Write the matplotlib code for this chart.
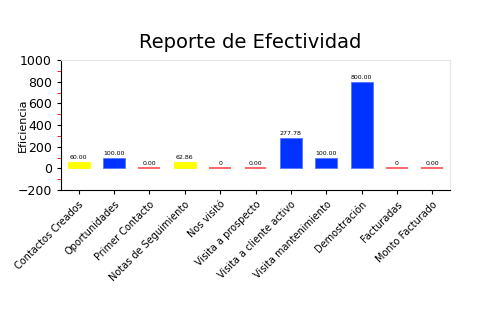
import numpy as np
import matplotlib
matplotlib.use("Agg")
import matplotlib.pyplot as plt
from matplotlib.ticker import MultipleLocator

# data
categorias = ["Contactos Creados", "Oportunidades", "Primer Contacto",
              "Notas de Seguimiento", "Nos visitó", "Visita a prospecto",
              "Visita a cliente activo", "Visita mantenimiento",
              "Demostración", "Facturadas", "Monto Facturado"]
valores = [60.00, 100.00, 0.00, 62.86, 0, 0.00, 277.78, 100.00, 800.00, 0, 0.00]
etiquetas = ["60.00", "100.00", "0.00", "62.86", "0", "0.00",
             "277.78", "100.00", "800.00", "0", "0.00"]


def color_for(v):
    if v <= 0:
        return "#ff6666"
    if v < 100:
        return "#ffff00"
    return "#0033ff"


fig = plt.figure(figsize=(5, 3.3), dpi=100)
ax = fig.add_axes([0.122, 0.424, 0.778, 0.394])

x = np.arange(len(categorias))
for xi, v, lab in zip(x, valores, etiquetas):
    c = color_for(v)
    if v <= 0:
        ax.plot([xi - 0.31, xi + 0.31], [0, 0], color=c, lw=1.4,
                solid_capstyle="butt", zorder=3)
    else:
        ax.bar(xi, v, width=0.62, color=c,
               edgecolor="#5577ff" if c != "#ffff00" else "#ffff00",
               linewidth=0.6, zorder=3)
    ax.text(xi, max(v, 0) + 18, lab, ha="center", va="bottom", fontsize=4.5)

ax.set_xlim(-0.5, len(categorias) - 0.5)
ax.set_ylim(-200, 1000)
ax.yaxis.set_major_locator(MultipleLocator(200))
ax.yaxis.set_minor_locator(MultipleLocator(100))
ax.tick_params(axis="y", which="major", labelsize=9, length=3)
ax.tick_params(axis="y", which="minor", length=3, color="red")
ax.tick_params(axis="x", length=3)
ax.set_xticks(x)
ax.set_xticklabels(categorias, rotation=45, ha="right", rotation_mode="anchor",
                   fontsize=7)

for s in ("top", "right"):
    ax.spines[s].set_color("#e6e6e6")
ax.spines["left"].set_color("black")
ax.spines["bottom"].set_color("black")

ax.set_ylabel("Eficiencia", fontsize=8)
ax.yaxis.set_label_coords(-0.085, 0.5)
fig.text(0.5, 0.87, "Reporte de Efectividad", ha="center", va="center", fontsize=14)

fig.savefig("out.png", dpi=100)
